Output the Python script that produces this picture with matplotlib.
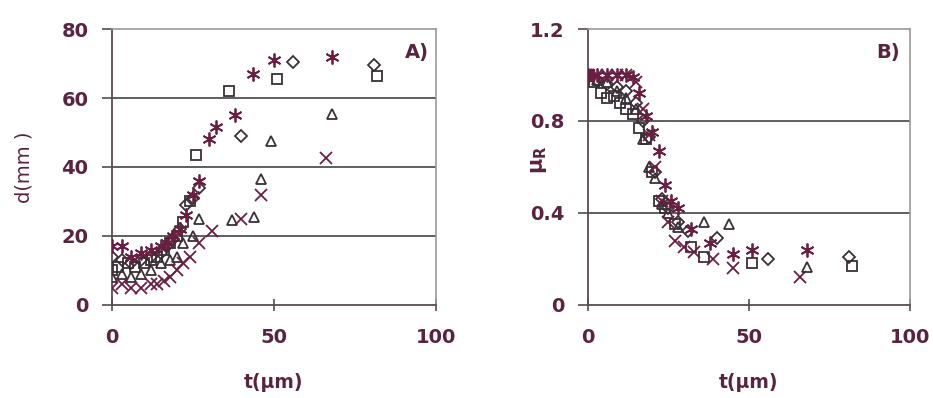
import matplotlib.pyplot as plt

# panel A: spreading distance d(mm) against t(um)
a_sq_t = [0, 2, 5, 7, 10, 12, 14, 16, 18, 20, 22, 24, 26, 36, 51, 82]
a_sq_d = [10, 11, 12, 11, 12, 13, 14, 16, 18, 20, 24, 30, 43.5, 62, 65.5, 66.5]
a_di_t = [0, 3, 6, 9, 12, 15, 17, 19, 21, 23, 25, 27, 40, 56, 81]
a_di_d = [14, 13, 12, 13, 14, 15, 17, 19, 22, 29, 31, 34, 49, 70.5, 69.5]
a_tr_t = [0, 3, 6, 9, 12, 15, 18, 20, 22, 25, 27, 37, 44, 46, 49, 68]
a_tr_d = [8, 9, 8, 9, 10, 12, 13, 14, 18, 20, 25, 24.5, 25.5, 36.5, 47.5, 55.5]
a_x_t = [0, 3, 6, 9, 12, 14, 16, 18, 20, 22, 24, 27, 31, 40, 46, 66]
a_x_d = [5, 6, 5, 5, 6, 6, 7, 8, 10, 12, 14, 18, 21.5, 25, 32, 42.5]
a_as_t = [0, 3, 6, 9, 12, 15, 17, 19, 21, 23, 25, 27, 30, 32, 38, 43.5, 50, 68]
a_as_d = [17, 17, 14, 15, 16, 17, 18, 20, 22, 26, 32, 36, 48, 51.5, 55, 67, 71, 72]

# panel B: friction ratio mu_R against t(um)
b_sq_t = [0, 2, 4, 6, 8, 10, 12, 14, 16, 18, 20, 22, 24, 27, 32, 36, 51, 82]
b_sq_m = [1.0, 0.97, 0.92, 0.9, 0.91, 0.88, 0.85, 0.83, 0.77, 0.72, 0.58, 0.45, 0.42, 0.35, 0.25, 0.21, 0.18, 0.17]
b_di_t = [0, 3, 6, 9, 12, 15, 17, 19, 21, 23, 25, 28, 31, 40, 56, 81]
b_di_m = [1.0, 0.98, 0.96, 0.95, 0.93, 0.88, 0.8, 0.73, 0.58, 0.46, 0.42, 0.36, 0.32, 0.29, 0.2, 0.21]
b_tr_t = [0, 3, 6, 9, 12, 15, 17, 19, 21, 23, 25, 28, 36, 44, 68]
b_tr_m = [1.0, 0.98, 0.97, 0.93, 0.9, 0.85, 0.72, 0.6, 0.55, 0.44, 0.4, 0.34, 0.36, 0.35, 0.165]
b_x_t = [0, 3, 6, 9, 12, 15, 17, 19, 21, 23, 25, 27, 30, 33, 39, 45, 66]
b_x_m = [1.0, 1.0, 1.0, 1.0, 1.0, 0.97, 0.85, 0.74, 0.6, 0.45, 0.36, 0.28, 0.25, 0.23, 0.2, 0.16, 0.12]
b_as_t = [0, 3, 6, 9, 12, 14, 16, 18, 20, 22, 24, 26, 28, 32, 38, 45, 51, 68]
b_as_m = [1.0, 1.0, 1.0, 1.0, 1.0, 0.99, 0.92, 0.82, 0.75, 0.67, 0.52, 0.45, 0.42, 0.33, 0.27, 0.22, 0.24, 0.24]

a_ticks = [0, 20, 40, 60, 80]
b_ticks = [0, 0.4, 0.8, 1.2]
b_tick_labels = ['0', '0.4', '0.8', '1.2']

txt = '#5a2340'
dark = '#3a3036'
maroon = '#6a1e42'
asterisk = (6, 2, 0)

fig = plt.figure(figsize=(9.33, 3.98), dpi=100)
ax1 = fig.add_axes([0.12, 0.234, 0.347, 0.693])
ax2 = fig.add_axes([0.630, 0.234, 0.345, 0.693])


def style(ax, yticks, ylim, ylabel, tag, tag_x):
    ax.set_xlim(0, 100)
    ax.set_ylim(*ylim)
    ax.set_xticks([0, 50, 100])
    ax.set_yticks(yticks)
    for y in yticks[1:-1]:
        ax.axhline(y, color='#333333', lw=1.1, zorder=0)
    for s in ['top', 'right']:
        ax.spines[s].set_color('#9a9a9a')
        ax.spines[s].set_linewidth(1.2)
    for s in ['left', 'bottom']:
        ax.spines[s].set_color('#5a4a50')
        ax.spines[s].set_linewidth(1.3)
    ax.tick_params(axis='x', direction='inout', length=9, width=1.2, color='#5a4a50',
                   labelsize=14, labelcolor=txt, pad=12)
    ax.tick_params(axis='y', direction='out', length=7, width=1.2, color='#5a4a50',
                   labelsize=14, labelcolor=txt, pad=10)
    for lab in ax.get_xticklabels() + ax.get_yticklabels():
        lab.set_fontweight('bold')
    ax.set_xlabel('t(μm)', color=txt, fontsize=13.5, fontweight='bold', labelpad=19)
    ax.set_ylabel(ylabel, color=txt, fontsize=14, labelpad=20)
    ax.text(tag_x, 0.915, tag, transform=ax.transAxes, ha='right', va='center',
            fontsize=14, fontweight='bold', color=txt)


def series(ax, t, v, marker, color, ms=7.5, filled=False):
    ax.plot(t, v, linestyle='none', marker=marker, ms=ms, mew=1.3,
            mec=color, mfc=color if filled else 'none', zorder=3)


series(ax1, a_sq_t, a_sq_d, 's', dark)
series(ax1, a_di_t, a_di_d, 'D', dark, ms=6)
series(ax1, a_tr_t, a_tr_d, '^', dark)
series(ax1, a_x_t, a_x_d, 'x', maroon, ms=8.5)
series(ax1, a_as_t, a_as_d, asterisk, maroon, ms=10)
style(ax1, a_ticks, (0, 80), 'd(mm )', 'A)', 0.98)

series(ax2, b_sq_t, b_sq_m, 's', dark)
series(ax2, b_di_t, b_di_m, 'D', dark, ms=6)
series(ax2, b_tr_t, b_tr_m, '^', dark)
series(ax2, b_x_t, b_x_m, 'x', maroon, ms=8.5)
series(ax2, b_as_t, b_as_m, asterisk, maroon, ms=10)
ax2.plot(b_sq_t[:1], b_sq_m[:1], linestyle='none', marker='s', ms=8, color=maroon, zorder=4)
style(ax2, b_ticks, (0, 1.2), '$\\mathregular{\\mu_R}$', 'B)', 0.97)
ax2.set_yticklabels(b_tick_labels)
for lab in ax2.get_yticklabels():
    lab.set_fontweight('bold')
ax2.yaxis.label.set_fontsize(15)
ax2.yaxis.label.set_fontweight('bold')
ax2.yaxis.set_label_coords(-0.12, 0.525)

fig.savefig('out.png', dpi=100, facecolor='white')
